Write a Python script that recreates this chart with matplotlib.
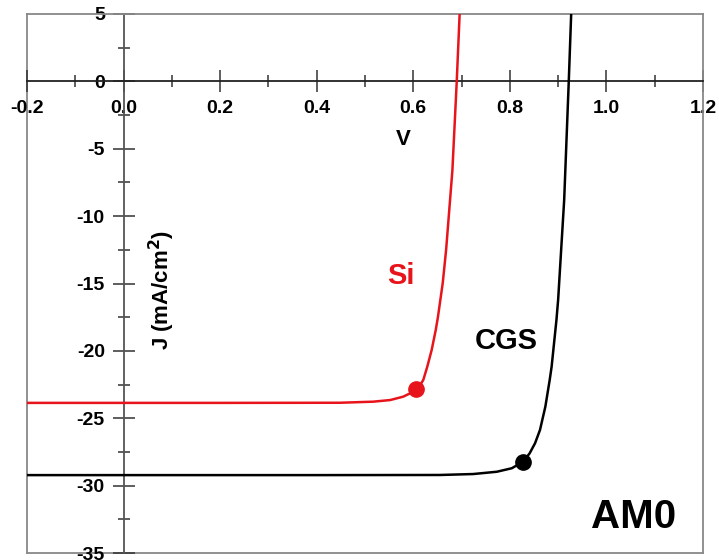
import matplotlib
matplotlib.use("Agg")
import matplotlib.pyplot as plt
from matplotlib.ticker import MultipleLocator, FixedLocator

plt.rcParams['font.family'] = ['Liberation Sans', 'DejaVu Sans']
plt.rcParams['font.weight'] = 'bold'
plt.rcParams['axes.unicode_minus'] = False

# J-V curves (V in volts, J in mA/cm^2)
si_v = [-0.2, 0.0, 0.2, 0.448, 0.517, 0.552, 0.579, 0.5935, 0.6056, 0.614,
        0.6207, 0.629, 0.6381, 0.6465, 0.651, 0.661, 0.668, 0.681, 0.690, 0.696]
si_j = [-23.86, -23.86, -23.86, -23.85, -23.77, -23.65, -23.40, -23.15, -22.85,
        -22.55, -22.16, -21.17, -19.93, -18.45, -17.5, -14.96, -12.5, -6.6,
        0.0, 5.0]

cgs_v = [-0.2, 0.0, 0.2, 0.4, 0.655, 0.724, 0.773, 0.804, 0.8278, 0.841,
         0.8521, 0.8624, 0.8735, 0.8825, 0.8865, 0.8965, 0.900, 0.9125, 0.922, 0.927]
cgs_j = [-29.22, -29.22, -29.22, -29.22, -29.21, -29.14, -28.97, -28.71, -28.22,
         -27.6, -26.86, -25.87, -24.14, -22.16, -21.17, -17.7, -16.2, -8.8,
         0.0, 5.0]

# maximum power points
si_mpp = (0.6056, -22.85)
cgs_mpp = (0.8278, -28.22)

x_ticks = [-0.2, 0.0, 0.2, 0.4, 0.6, 0.8, 1.0, 1.2]
x_ticklabels = ['-0.2', '0.0', '0.2', '0.4', '0.6', '0.8', '1.0', '1.2']
y_ticks = [5, 0, -5, -10, -15, -20, -25, -30, -35]

RED = '#e8141c'

fig = plt.figure(figsize=(7.19, 5.60), dpi=100)
ax = fig.add_axes([27/719, 1 - 553/560, 676/719, 539/560])
ax.set_xlim(-0.2, 1.2)
ax.set_ylim(-35, 5)

# axes crossing at the origin, with a light outer frame
for s in ('left', 'bottom'):
    ax.spines[s].set_position(('data', 0))
    ax.spines[s].set_linewidth(1.3)
ax.spines['bottom'].set_color('#222222')
ax.spines['left'].set_color('#555555')
for s in ('top', 'right'):
    ax.spines[s].set_color('#888888')
    ax.spines[s].set_linewidth(1.3)
ax.plot([0, 0], [0, 1], transform=ax.transAxes, color='#888888', lw=1.3,
        clip_on=False, zorder=1)
ax.plot([0, 1], [0, 0], transform=ax.transAxes, color='#888888', lw=1.3,
        clip_on=False, zorder=1)

ax.xaxis.set_major_locator(FixedLocator(x_ticks))
ax.set_xticklabels(x_ticklabels)
ax.xaxis.set_minor_locator(MultipleLocator(0.1))
ax.yaxis.set_major_locator(FixedLocator(y_ticks))
ax.yaxis.set_minor_locator(MultipleLocator(2.5))

ax.tick_params(which='major', direction='inout', length=16, width=1.1,
               color='#333333', labelsize=14, pad=5.5)
ax.tick_params(which='minor', direction='inout', length=8, width=1.1,
               color='#333333')
for lbl in ax.get_xticklabels() + ax.get_yticklabels():
    lbl.set_fontweight('bold')

ax.plot(si_v, si_j, color=RED, lw=1.8, zorder=3, clip_on=True,
        solid_joinstyle='round')
ax.plot(cgs_v, cgs_j, color='black', lw=1.8, zorder=3, clip_on=True,
        solid_joinstyle='round')
ax.plot(*si_mpp, 'o', color=RED, ms=11, zorder=4)
ax.plot(*cgs_mpp, 'o', color='black', ms=11, zorder=4)

ax.text(0.579, -4.3, 'V', fontsize=16, fontweight='bold', ha='center', va='center')
ax.text(0.079, -15.5, 'J (mA/cm$^\\mathbf{2}$)', fontsize=16, fontweight='bold',
        rotation=90, ha='center', va='center')
ax.text(0.574, -14.45, 'Si', fontsize=21, fontweight='bold', color=RED,
        ha='center', va='center')
ax.text(0.793, -19.3, 'CGS', fontsize=21, fontweight='bold', ha='center', va='center')
ax.text(1.057, -32.3, 'AM0', fontsize=29, fontweight='bold', ha='center', va='center')

fig.savefig('out.png', dpi=100)
